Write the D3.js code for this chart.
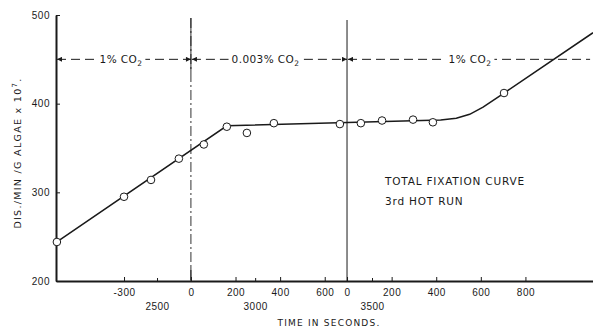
<!DOCTYPE html>
<html>
<head>
<meta charset="utf-8">
<script src="https://cdn.jsdelivr.net/npm/d3@7"></script>
<style>
  body { margin: 0; background: #fff; }
  svg { display: block; font-family: "DejaVu Sans", sans-serif; }
  .axis text { font-size: 10px; fill: #1a1a1a; letter-spacing: 0.5px; }
  .axis path, .axis line { stroke: #1a1a1a; }
</style>
</head>
<body>
<svg id="chart"></svg>
<script>
// time axis runs on one continuous seconds scale; labels restart at each gas change
const pointTimes = [-601, -300, -179, -54, 58, 161, 251, 372, 668, 762, 857, 996, 1085, 1404];
const pointValues = [244, 295, 314, 338, 354, 374, 367, 378, 377, 378, 381, 382, 379, 412];

// fitted curve drawn through the points
const curveTimes = [-601, 161, 1120, 1190, 1250, 1310, 1404, 1803];
const curveValues = [244, 375, 381.5, 383.5, 388, 396, 412, 480];

const tickTimes = [-300, 0, 200, 400, 600, 700, 900, 1100, 1300, 1500];
const tickLabels = ['-300', '0', '200', '400', '600', '0', '200', '400', '600', '800'];
const refTimes = [-152, 288, 812];
const refLabels = ['2500', '3000', '3500'];
const yTicks = [200, 300, 400, 500];

const phaseBounds = [-605, 0, 700, 1790];
const phaseLabels = ['1% CO', '0.003% CO', '1% CO'];
const co2Level = 450;

const svgWidth = 593, svgHeight = 329;
const svg = d3.select('#chart').attr('width', svgWidth).attr('height', svgHeight);

const x = d3.scaleLinear().domain([-605, 1803]).range([56, 593]);
const y = d3.scaleLinear().domain([200, 500]).range([281, 15]);
const ink = '#1a1a1a';

// arrow heads for the gas bands
const defs = svg.append('defs');
defs.append('marker')
    .attr('id', 'arr')
    .attr('viewBox', '0 0 10 10')
    .attr('refX', 10).attr('refY', 5)
    .attr('markerWidth', 7).attr('markerHeight', 5)
    .attr('markerUnits', 'userSpaceOnUse')
    .attr('orient', 'auto-start-reverse')
    .append('path')
    .attr('d', 'M0,0 L10,5 L0,10 Z')
    .attr('fill', ink);

// phase change lines
svg.append('line')
    .attr('x1', x(0)).attr('x2', x(0))
    .attr('y1', 18).attr('y2', y(200))
    .attr('stroke', ink).attr('stroke-width', 0.9)
    .attr('stroke-dasharray', '10,3,2,3');
svg.append('line')
    .attr('x1', x(0)).attr('x2', x(0))
    .attr('y1', 18).attr('y2', 72)
    .attr('stroke', ink).attr('stroke-width', 0.9);
svg.append('line')
    .attr('x1', x(0)).attr('x2', x(0))
    .attr('y1', 267).attr('y2', y(200))
    .attr('stroke', ink).attr('stroke-width', 0.9);
svg.append('line')
    .attr('x1', x(700)).attr('x2', x(700))
    .attr('y1', 20).attr('y2', y(200))
    .attr('stroke', ink).attr('stroke-width', 1);

// gas bands
const bandY = y(co2Level);
for (let i = 0; i < phaseLabels.length; i++) {
    const x0 = x(phaseBounds[i]) + 1, x1 = x(phaseBounds[i + 1]);
    svg.append('line')
        .attr('x1', x0).attr('x2', x1)
        .attr('y1', bandY).attr('y2', bandY)
        .attr('stroke', ink).attr('stroke-width', 1)
        .attr('stroke-dasharray', '9,5')
        .attr('marker-start', 'url(#arr)')
        .attr('marker-end', i < phaseLabels.length - 1 ? 'url(#arr)' : null);
    const cx = i === 2 ? 470 : (x0 + x1) / 2 + (i === 1 ? -4 : -3);
    const t = svg.append('text')
        .attr('x', cx).attr('y', bandY + 4)
        .attr('text-anchor', 'middle')
        .attr('font-size', 10.5)
        .attr('letter-spacing', 0.4)
        .attr('fill', ink);
    t.append('tspan').text(phaseLabels[i]);
    t.append('tspan').attr('font-size', 7.5).attr('dy', 3).text('2');
    const bb = t.node().getBBox();
    svg.insert('rect', 'text:last-of-type')
        .attr('x', bb.x - 3).attr('y', bb.y)
        .attr('width', bb.width + 6).attr('height', bb.height)
        .attr('fill', '#fff');
}

// axes
const yAxis = d3.axisLeft(y).tickValues(yTicks).tickSizeInner(-4).tickSizeOuter(0).tickPadding(6);
svg.append('g').attr('class', 'axis')
    .attr('transform', 'translate(' + x(-605) + ',0)')
    .call(yAxis)
    .call(g => g.select('.domain').attr('stroke-width', 2));

const xAxis = d3.axisBottom(x).tickValues(tickTimes)
    .tickFormat((d, i) => tickLabels[i])
    .tickSizeInner(-4).tickSizeOuter(0).tickPadding(8);
svg.append('g').attr('class', 'axis')
    .attr('transform', 'translate(0,' + y(200) + ')')
    .call(xAxis)
    .call(g => g.select('.domain').attr('stroke-width', 2.2));

const refAxis = d3.axisBottom(x).tickValues(refTimes)
    .tickFormat((d, i) => refLabels[i])
    .tickSizeInner(-3).tickSizeOuter(0).tickPadding(22);
svg.append('g').attr('class', 'axis')
    .attr('transform', 'translate(0,' + y(200) + ')')
    .call(refAxis)
    .call(g => g.select('.domain').remove());

// curve
const line = d3.line()
    .x((d, i) => x(curveTimes[i]))
    .y(d => y(d));
svg.append('path')
    .attr('d', line(curveValues))
    .attr('fill', 'none')
    .attr('stroke', ink)
    .attr('stroke-width', 1.5);

// measured points
svg.selectAll('circle.pt')
    .data(pointValues)
    .enter()
    .append('circle')
    .attr('class', 'pt')
    .attr('cx', (d, i) => x(pointTimes[i]))
    .attr('cy', d => y(d))
    .attr('r', 3.8)
    .attr('fill', '#fff')
    .attr('stroke', ink)
    .attr('stroke-width', 1);

// annotations
svg.append('text')
    .attr('x', 385).attr('y', 185)
    .attr('font-size', 10.5).attr('letter-spacing', 0.8)
    .attr('fill', ink)
    .text('TOTAL FIXATION CURVE');
svg.append('text')
    .attr('x', 385).attr('y', 205)
    .attr('font-size', 10.5).attr('letter-spacing', 0.8)
    .attr('fill', ink)
    .text('3rd HOT RUN');

svg.append('text')
    .attr('x', 329).attr('y', 326)
    .attr('text-anchor', 'middle')
    .attr('font-size', 9).attr('letter-spacing', 1.2)
    .attr('fill', ink)
    .text('TIME  IN  SECONDS.');

const yl = svg.append('text')
    .attr('transform', 'translate(21,153) rotate(-90)')
    .attr('text-anchor', 'middle')
    .attr('font-size', 9.5).attr('letter-spacing', 1.3)
    .attr('fill', ink);
yl.append('tspan').text('DIS./MIN /G  ALGAE x 10');
yl.append('tspan').attr('font-size', 7).attr('dy', -4).text('7');
yl.append('tspan').attr('dy', 4).text('.');
</script>
</body>
</html>
